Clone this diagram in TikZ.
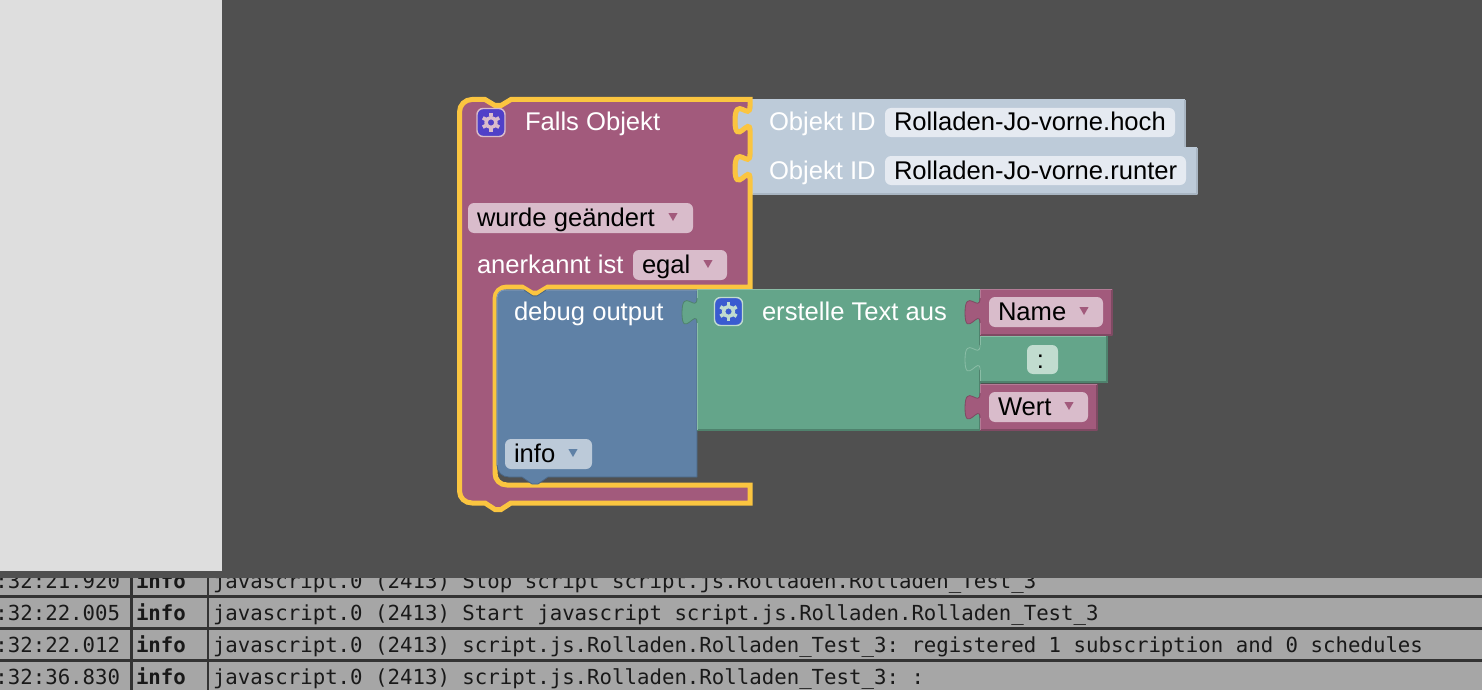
\documentclass[tikz,border=0pt]{standalone}
\usepackage{fontspec}
\setmainfont{Liberation Sans}
\newfontfamily\logfont{DejaVu Sans Mono}
\frenchspacing
\definecolor{bgdark}{HTML}{505050}
\definecolor{panel}{HTML}{DEDEDE}
\definecolor{logbg}{HTML}{A6A6A6}
\definecolor{logline}{HTML}{333333}
\definecolor{plum}{HTML}{A25A7C}
\definecolor{plumL}{HTML}{B47B96}
\definecolor{plumD}{HTML}{7F4A63}
\definecolor{plumF}{HTML}{D9BCCB}
\definecolor{steel}{HTML}{5F81A6}
\definecolor{steelL}{HTML}{7F9AB9}
\definecolor{steelD}{HTML}{4A6786}
\definecolor{steelF}{HTML}{BCCAD9}
\definecolor{jade}{HTML}{64A58A}
\definecolor{jadeL}{HTML}{8ABDA6}
\definecolor{jadeD}{HTML}{4F826D}
\definecolor{jadeF}{HTML}{C1DCCF}
\definecolor{mist}{HTML}{BDCBD9}
\definecolor{mistD}{HTML}{A9B6C3}
\definecolor{mistF}{HTML}{E5EAF1}
\definecolor{glow}{HTML}{FBC540}
\definecolor{gearP}{HTML}{5040C8}
\definecolor{gearB}{HTML}{3A5BD0}
\tikzset{
  lab/.style={anchor=base west,inner sep=0pt,outer sep=0pt,font=\fontsize{25.6}{28}\selectfont},
  wlab/.style={lab,text=white},
  klab/.style={lab,text=black},
  loglab/.style={anchor=base west,inner sep=0pt,outer sep=0pt,text=black!90,font=\logfont\fontsize{20.72}{24}\selectfont},
  logbold/.style={loglab,font=\logfont\bfseries\fontsize{20.72}{24}\selectfont},
  fieldbox/.style={rounded corners=6pt},
}
% tab on a left edge, going down / going up
\def\tabdn#1#2{-- (#1,#2) .. controls (#1,#2+16) and (#1-15,#2-12) .. (#1-15,#2+15) .. controls (#1-15,#2+42) and (#1,#2+9) .. (#1,#2+25)}
\def\tabup#1#2{-- (#1,#2+25) .. controls (#1,#2+9) and (#1-15,#2+42) .. (#1-15,#2+15) .. controls (#1-15,#2-12) and (#1,#2+16) .. (#1,#2)}
% \blk{x1}{y1}{x2}{y2}{taby}{fill}{light}{dark}
\newcommand{\blk}[8]{%
  \fill[#6] (#1,#2) -- (#3,#2) -- (#3,#4) -- (#1,#4) \tabup{#1}{#5} -- cycle;
  \draw[#8,line width=1.3pt] (#3,#2) -- (#3,#4) -- (#1,#4);
  \draw[#7,line width=1pt] (#1,#4) -- (#1,#5+25);
  \draw[#7,line width=1pt] (#1,#5) -- (#1,#2) -- (#3,#2);
  \draw[#8,line width=.8pt] (#1,#5+25) .. controls (#1,#5+9) and (#1-15,#5+42) .. (#1-15,#5+15) .. controls (#1-15,#5-12) and (#1,#5+16) .. (#1,#5);
}
\newcommand{\fieldr}[5]{\fill[#5,fieldbox] (#1,#2) rectangle (#3,#4);}
\newcommand{\tri}[3]{\fill[#3] (#1-4.6,#2-4) -- (#1+4.6,#2-4) -- (#1,#2+4) -- cycle;}
% \gear{cx}{cy}{fill}{line}
\newcommand{\gear}[4]{%
  \draw[draw=#4,line width=1.4pt,rounded corners=6pt,fill=#3] (#1-14,#2-14) rectangle (#1+14,#2+14);
  \draw[#4,line width=3.4pt] (#1,#2) circle[radius=5pt];
  \foreach \a in {30,90,150,210,270,330}
    \draw[#4,line width=3.6pt] (#1,#2) ++(\a:6pt) -- ++(\a:3.4pt);
}
\begin{document}
\begin{tikzpicture}[x=1pt,y=-1pt,line join=round]
\useasboundingbox (0,0) rectangle (1482,690);
\clip (0,0) rectangle (1482,690);
% log panel
\fill[logbg] (0,570) rectangle (1482,690);
\node[loglab] (t1) at (-4.6,588) {:32:21.920};
\node[logbold] (l1) at (136,588) {info};
\node[loglab] (m1) at (213,588) {javascript.0 (2413) Stop script script.js.Rolladen.Rolladen\_Test\_3};
\node[loglab] (t2) at (-4.6,620) {:32:22.005};
\node[logbold] (l2) at (136,620) {info};
\node[loglab] (m2) at (213,620) {javascript.0 (2413) Start javascript script.js.Rolladen.Rolladen\_Test\_3};
\node[loglab] (t3) at (-4.6,652) {:32:22.012};
\node[logbold] (l3) at (136,652) {info};
\node[loglab] (m3) at (213,652) {javascript.0 (2413) script.js.Rolladen.Rolladen\_Test\_3: registered 1 subscription and 0 schedules};
\node[loglab] (t4) at (-4.6,684) {:32:36.830};
\node[logbold] (l4) at (136,684) {info};
\node[loglab] (m4) at (213,684) {javascript.0 (2413) script.js.Rolladen.Rolladen\_Test\_3: :};
\foreach \yy in {596.3,628.5,660.8}
  \fill[logline] (0,\yy-1.4) rectangle (1482,\yy+1.4);
\foreach \xx in {131.3,208}
  \fill[logline] (\xx-1.4,578) rectangle (\xx+1.4,690);
% workspace
\fill[bgdark] (0,0) rectangle (1482,578);
\fill[panel] (0,0) rectangle (222,571);
% object id blocks
\blk{752}{100}{1185}{147.5}{106}{mist}{mist}{mistD}
\blk{752}{147.5}{1197}{194}{154}{mist}{mist}{mistD}
\fieldr{885}{108}{1175}{137}{mistF}
\fieldr{885}{156}{1186}{185}{mistF}
\node[wlab] (id1) at (769,131) {Objekt ID};
\node[wlab] (id2) at (769,179) {Objekt ID};
\node[klab] (v1) at (894,131) {Rolladen-Jo-vorne.hoch};
\node[klab] (v2) at (894,179) {Rolladen-Jo-vorne.runter};
% trigger block
\path[fill=plum,draw=glow,line width=5pt,line join=miter,miter limit=3] (459.5,112) .. controls (459.5,105) and (465,99.5) .. (472,99.5)
  -- (485,99.5) -- (495,105.5) -- (501,105.5) -- (511,99.5) -- (750,99.5)
  \tabdn{750}{106} \tabdn{750}{154}
  -- (750,287) -- (548,287) -- (538,293) -- (532,293) -- (522,287) -- (507,287)
  .. controls (500,287) and (495,292) .. (495,299) -- (495,473)
  .. controls (495,480) and (500,485) .. (507,485) -- (750,485) -- (750,503)
  -- (511,503) -- (501,509.5) -- (495,509.5) -- (485,503) -- (472,503)
  .. controls (465,503) and (459.5,498) .. (459.5,491) -- cycle;
\gear{491}{122.5}{gearP}{plumF}
\node[wlab] (fo) at (525,131) {Falls Objekt};
\fieldr{468}{203}{693}{233}{plumF}
\node[klab] (wg) at (477,226) {wurde geändert};
\tri{673}{217}{plum}
\node[wlab] (ai) at (477,273) {anerkannt ist};
\fieldr{633}{250}{727}{280}{plumF}
\node[klab] (eg) at (642,273) {egal};
\tri{708}{264}{plum}
% debug block
\path[fill=steel,draw=steelD,line width=.8pt] (497,298) .. controls (497,293) and (501,290) .. (505,290)
  -- (524,290) -- (533,296) -- (537,296) -- (546,290) -- (697,290) -- (697,477) -- (548,477)
  -- (538,484) -- (532,484) -- (522,477) -- (509,477)
  .. controls (502,477) and (497,472) .. (497,465) -- cycle;
\draw[steelL,line width=1pt] (497,465) -- (497,298) .. controls (497,293) and (501,290) .. (505,290) -- (524,290) (546,290) -- (697,290);
\node[wlab] (dbg) at (514,320) {debug output};
\fieldr{505}{439}{592}{469}{steelF}
\node[klab] (inf) at (514,462) {info};
\tri{573}{453}{steel}
% text join block
\blk{697}{289}{980}{430}{298}{jade}{jadeL}{jadeD}
\gear{728.5}{311.5}{gearB}{jadeF}
\node[wlab] (et) at (762,320) {erstelle Text aus};
% values
\blk{980}{289}{1112}{335}{298}{plum}{plumL}{plumD}
\fieldr{989}{297}{1103}{327}{plumF}
\node[klab] (nm) at (998,320) {Name};
\tri{1084}{311}{plum}
\blk{980}{336}{1107}{382}{345}{jade}{jadeL}{jadeL}
\draw[jadeD,line width=1.3pt] (1107,336) -- (1107,382) -- (980,382);
\fieldr{1027}{345}{1058}{374}{jadeF}
\node[klab,anchor=base] (col) at (1040.5,368) {:};
\blk{980}{384}{1097}{430}{393}{plum}{plumL}{plumD}
\fieldr{989}{392}{1088}{422}{plumF}
\node[klab] (wt) at (998,415) {Wert};
\tri{1069}{406}{plum}
\end{tikzpicture}
\end{document}
